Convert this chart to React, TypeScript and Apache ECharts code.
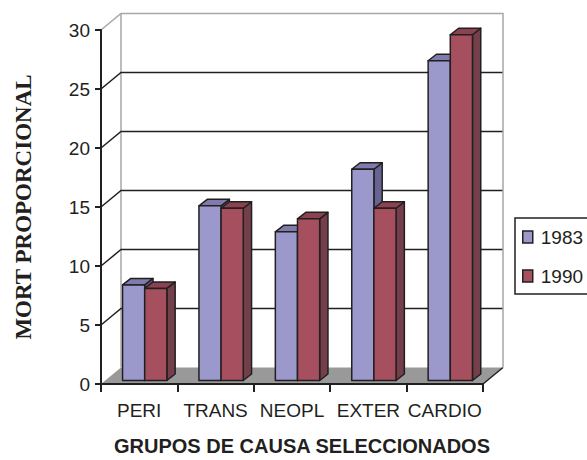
import React, { useEffect, useRef } from "react";
import * as echarts from "echarts";

const categories = ["PERI", "TRANS", "NEOPL", "EXTER", "CARDIO"];
const values1983 = [8.1, 14.8, 12.6, 17.9, 27.1];
const values1990 = [7.8, 14.6, 13.7, 14.6, 29.3];
const seriesNames = ["1983", "1990"];
const yTicks = [0, 5, 10, 15, 20, 25, 30];

const xTitle = "GRUPOS DE CAUSA SELECCIONADOS";
const yTitle = "MORT PROPORCIONAL";

// oblique projection of the plot depth (pixels)
const DEPTH: [number, number] = [20, -16.5];
const BAR_OFFSET: [number, number] = [5.5, -3.5];
const BAR_DEPTH: [number, number] = [8.3, -6.5];
const BAR_WIDTH_RATIO = 0.29;

const INK = "#231f20";
const WALL_EDGE = "#a7a7a7";
const FLOOR = "#999999";
const NARROW = "'Liberation Sans Narrow', 'Arial Narrow', 'Liberation Sans', sans-serif";

const palette = [
  { front: "#9b98cc", top: "#7f7bab", side: "#676392" },
  { front: "#a6505f", top: "#8a4251", side: "#733f4a" },
];

const renderWalls = (params: any, api: any) => {
  const cs = params.coordSys;
  const xl = cs.x;
  const xr = cs.x + cs.width;
  const [dx, dy] = DEPTH;
  const y0 = api.coord([0, yTicks[0]])[1];
  const yTop = api.coord([0, yTicks[yTicks.length - 1]])[1];
  const children: any[] = [];

  children.push({
    type: "polygon",
    shape: { points: [[xl, y0], [xr, y0], [xr + dx, y0 + dy], [xl + dx, y0 + dy]] },
    style: { fill: FLOOR, stroke: null },
  });
  children.push({
    type: "line",
    shape: { x1: xr, y1: y0, x2: xr + dx, y2: y0 + dy },
    style: { stroke: INK, lineWidth: 1.5 },
  });
  children.push({
    type: "line",
    shape: { x1: xl + dx, y1: yTop + dy, x2: xl + dx, y2: y0 + dy },
    style: { stroke: WALL_EDGE, lineWidth: 1.5 },
  });
  for (let i = 1; i < yTicks.length - 1; i++) {
    const y = api.coord([0, yTicks[i]])[1];
    children.push({
      type: "polyline",
      shape: { points: [[xl, y], [xl + dx, y + dy], [xr + dx, y + dy]] },
      style: { stroke: INK, lineWidth: 1.5, fill: null },
    });
  }
  children.push({
    type: "polyline",
    shape: {
      points: [[xl, yTop], [xl + dx, yTop + dy], [xr + dx, yTop + dy], [xr + dx, y0 + dy]],
    },
    style: { stroke: WALL_EDGE, lineWidth: 1.5, fill: null },
  });
  return { type: "group", children };
};

const makeBarRenderer = (sIdx: number) => (params: any, api: any) => {
  const cat = api.value(0);
  const v = api.value(1);
  const base = api.coord([cat, 0]);
  const topPt = api.coord([cat, v]);
  const bw = api.size([1, 0])[0] * BAR_WIDTH_RATIO;
  const x0 = base[0] + BAR_OFFSET[0] + (sIdx === 0 ? -bw : 0);
  const x1 = x0 + bw;
  const yb = base[1] + BAR_OFFSET[1];
  const yt = topPt[1] + BAR_OFFSET[1];
  const [dx, dy] = BAR_DEPTH;
  const c = palette[sIdx];
  const edge = { stroke: INK, lineWidth: 1.5, lineJoin: "round" };
  return {
    type: "group",
    children: [
      {
        type: "polygon",
        shape: { points: [[x1, yt], [x1 + dx, yt + dy], [x1 + dx, yb + dy], [x1, yb]] },
        style: { fill: c.side, ...edge },
      },
      {
        type: "polygon",
        shape: { points: [[x0, yt], [x1, yt], [x1 + dx, yt + dy], [x0 + dx, yt + dy]] },
        style: { fill: c.top, ...edge },
      },
      {
        type: "rect",
        shape: { x: x0, y: yt, width: bw, height: yb - yt },
        style: { fill: c.front, ...edge },
      },
    ],
  };
};

export default function App() {
  const ref = useRef<HTMLDivElement>(null);

  useEffect(() => {
    if (!ref.current) return;
    const chart = echarts.init(ref.current, null, { renderer: "svg" });
    const seriesValues = [values1983, values1990];

    chart.setOption({
      animation: false,
      backgroundColor: "#ffffff",
      grid: { left: 101, right: 104, top: 30, bottom: 76 },
      legend: {
        left: 515,
        top: 218,
        orient: "vertical",
        itemWidth: 10,
        itemHeight: 12,
        itemGap: 19,
        borderWidth: 0,
        padding: [9, 10, 8, 7],
        icon: "rect",
        textStyle: {
          fontFamily: NARROW,
          fontSize: 19,
          lineHeight: 20,
          color: INK,
          padding: [0, 0, 0, 3],
        },
        data: seriesNames.map((name, i) => ({
          name,
          itemStyle: { color: palette[i].front, borderColor: INK, borderWidth: 1.5 },
        })),
      },
      xAxis: {
        type: "category",
        data: categories,
        boundaryGap: true,
        z: 10,
        axisLine: { show: true, lineStyle: { color: INK, width: 2 } },
        axisTick: {
          show: true,
          interval: 0,
          length: 8,
          alignWithLabel: false,
          lineStyle: { color: INK, width: 2 },
        },
        axisLabel: { interval: 0, fontFamily: NARROW, fontSize: 19, color: INK, margin: 17 },
        splitLine: { show: false },
      },
      yAxis: {
        type: "value",
        min: yTicks[0],
        max: yTicks[yTicks.length - 1],
        interval: yTicks[1] - yTicks[0],
        z: 10,
        axisLine: { show: true, lineStyle: { color: INK, width: 2 } },
        axisTick: { show: true, length: 6, lineStyle: { color: INK, width: 2 } },
        axisLabel: { fontFamily: NARROW, fontSize: 19, color: INK, margin: 11 },
        splitLine: { show: false },
      },
      graphic: [
        {
          // legend frame, running past the right edge of the page
          type: "rect",
          shape: { x: 515, y: 218, width: 100, height: 76 },
          style: { fill: null, stroke: INK, lineWidth: 1.5 },
          z: 5,
        },
        {
          type: "text",
          x: 23,
          y: 207,
          rotation: Math.PI / 2,
          style: {
            text: yTitle,
            fontFamily: "'Liberation Serif', 'Times New Roman', serif",
            fontWeight: "bold",
            fontSize: 23,
            fill: INK,
            align: "center",
            verticalAlign: "middle",
          },
        },
        {
          type: "text",
          x: 302,
          y: 446,
          style: {
            text: xTitle,
            fontFamily: NARROW,
            fontWeight: "bold",
            fontSize: 20,
            fill: INK,
            align: "center",
            verticalAlign: "middle",
          },
        },
      ],
      series: [
        {
          type: "custom",
          name: "walls",
          silent: true,
          clip: false,
          z: 1,
          renderItem: renderWalls,
          data: [[0, 0]],
        },
        ...seriesNames.map((name, i) => ({
          type: "custom",
          name,
          clip: false,
          z: 2,
          itemStyle: { color: palette[i].front },
          renderItem: makeBarRenderer(i),
          encode: { x: 0, y: 1 },
          data: seriesValues[i].map((v, k) => [k, v]),
        })),
      ],
    });

    return () => chart.dispose();
  }, []);

  return (
    <div
      ref={ref}
      style={{ position: "fixed", left: 0, top: 0, width: 587, height: 460, background: "#fff" }}
    />
  );
}
